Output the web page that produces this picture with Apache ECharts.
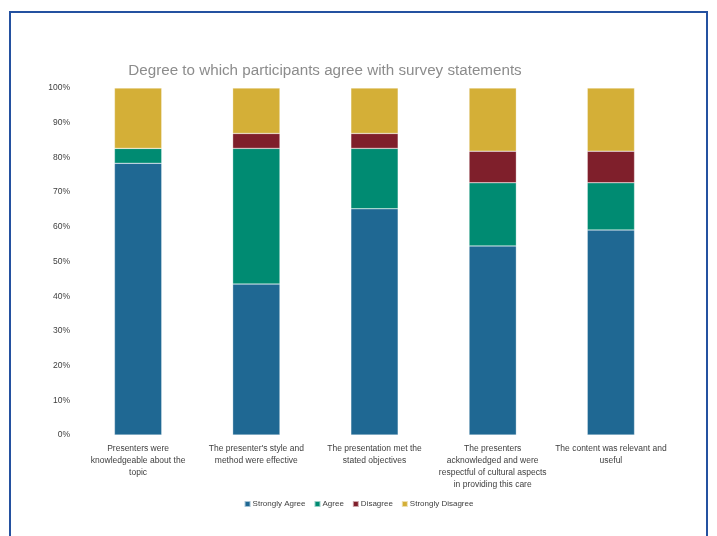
<!DOCTYPE html>
<html><head><meta charset="utf-8">
<script src="https://cdn.jsdelivr.net/npm/echarts@6/dist/echarts.min.js"></script>
<style>
html,body{margin:0;padding:0;background:#fff;}
#frame{position:absolute;left:9px;top:11px;width:699px;height:540px;border:2px solid #2451A0;border-bottom:none;box-sizing:border-box;}
#c{position:absolute;left:0;top:0;width:717px;height:536px;}
</style></head>
<body>
<div id="frame"></div>
<div id="c"></div>
<script>
const categories = [
  "Presenters were\nknowledgeable about the\ntopic",
  "The presenter's style and\nmethod were effective",
  "The presentation met the\nstated objectives",
  "The presenters\nacknowledged and were\nrespectful of cultural aspects\nin providing this care",
  "The content was relevant and\nuseful"
];
const stronglyAgree    = [78.3, 43.5, 65.2, 54.5, 59.1];
const agree            = [4.3, 39.1, 17.4, 18.2, 13.6];
const disagree         = [0, 4.3, 4.3, 9.1, 9.1];
const stronglyDisagree = [17.4, 13.1, 13.1, 18.2, 18.2];
const yTicks = [0,10,20,30,40,50,60,70,80,90,100];

const font = "'Liberation Sans', Arial, sans-serif";
const chart = echarts.init(document.getElementById('c'));
const mk = (name, data, color) => ({
  name, type:'bar', stack:'s', data, barWidth:'40%',
  itemStyle:{color, borderColor:'rgba(255,255,255,0.6)', borderWidth:0.5},
  emphasis:{disabled:true}
});
chart.setOption({
  animation:false,
  title:{text:'Degree to which participants agree with survey statements', left:320, textAlign:'center', top:58,
    textStyle:{fontFamily:font, fontSize:15.2, fontWeight:'normal', color:'#8C8C8C'}},
  legend:{bottom:23, left:'center', itemWidth:6, itemHeight:6, itemGap:8, icon:'rect',
    textStyle:{fontFamily:font, fontSize:8, color:'#404040', padding:[0,0,0,-3]}},
  grid:{left:79, right:47, top:88, bottom:101},
  xAxis:{type:'category', data:categories,
    axisLine:{show:false}, axisTick:{show:false},
    axisLabel:{fontFamily:font, fontSize:8.5, color:'#404040', margin:8, lineHeight:12, interval:0}},
  yAxis:{type:'value', min:0, max:100, interval:10,
    axisLabel:{formatter:v=>yTicks.includes(v)?v+'%':'', fontFamily:font, fontSize:8.5, color:'#404040', margin:9},
    splitLine:{show:false}, axisLine:{show:false}, axisTick:{show:false}},
  series:[
    mk('Strongly Agree', stronglyAgree, '#1F6893'),
    mk('Agree', agree, '#008B72'),
    mk('Disagree', disagree, '#7F1F2B'),
    mk('Strongly Disagree', stronglyDisagree, '#D4AF37')
  ]
});
</script>
</body></html>
